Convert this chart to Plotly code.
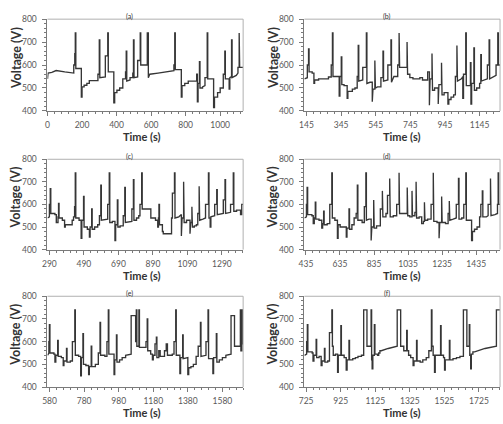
import plotly.graph_objects as go

# ---- data: (time s, voltage V) vertices ----
pts_a = [
(0,540),(3,565),(25,568),(50,576),(100,570),(152,565),
(152,600),(158,600),(158,650),(161,650),(161,740),(164,740),(164,585),
(196,585),(196,460),(200,460),(200,505),(212,505),(212,512),(228,512),(228,520),(242,520),(242,532),(292,532),
(292,560),(300,560),(300,710),(303,710),(303,545),(335,548),
(335,640),(349,640),(349,740),(352,740),(352,570),(384,570),
(384,435),(389,435),(389,480),(402,480),(402,490),(418,490),(418,500),(436,500),(436,540),(452,540),
(452,570),(456,570),(456,660),(459,660),(459,530),(478,535),(478,545),(494,545),
(494,565),(498,565),(498,710),(501,710),(501,545),(522,548),
(522,620),(537,620),(537,740),(540,740),(540,600),(578,600),
(578,740),(584,740),(584,545),(592,560),(640,565),(700,570),(732,575),
(732,600),(737,600),(737,740),(740,740),(740,580),(775,580),
(775,460),(779,460),(779,510),(795,510),(795,520),(815,520),(815,530),(864,530),
(864,560),(868,560),(868,440),(872,440),(872,520),(880,520),(880,615),(883,615),(883,500),(898,500),(898,505),(912,510),
(912,545),(925,545),(925,740),(928,740),(928,540),(962,540),
(962,415),(967,415),(967,460),(985,460),(985,480),(1000,480),(1000,500),(1018,500),
(1018,560),(1027,560),(1027,660),(1030,660),(1030,540),(1052,540),
(1052,495),(1056,495),(1056,545),(1066,550),(1066,710),(1069,710),(1069,545),(1093,555),(1103,565),
(1103,590),(1110,590),(1110,740),(1113,740),(1113,590),(1133,590)
]

pts_b = [
(133,540),(150,545),(150,600),(157,600),(157,670),(160,670),(160,570),(178,570),(178,565),(188,565),
(188,520),(192,520),(192,535),(215,535),(215,540),(272,540),(272,548),(288,548),
(288,600),(295,600),(295,740),(298,740),(298,550),(334,550),
(334,465),(338,465),(338,550),(346,550),(346,635),(349,635),(349,515),(362,515),(362,510),(380,510),
(380,455),(384,455),(384,485),(410,485),(410,495),(425,495),(425,500),(438,500),
(438,550),(444,550),(444,685),(447,685),(447,530),(470,535),
(470,590),(491,590),(491,740),(494,740),(494,520),(512,525),(525,525),
(525,440),(529,440),(529,495),(540,495),(540,620),(543,620),(543,500),(555,505),(575,505),
(575,545),(587,545),(587,660),(590,660),(590,530),(615,535),
(615,600),(633,600),(633,710),(636,710),(636,525),(650,550),(672,550),
(672,600),(680,600),(680,740),(683,740),(683,590),(726,590),
(726,700),(729,700),(729,560),(742,560),(742,545),(760,545),(760,540),(800,540),(800,545),(815,545),(815,535),(845,535),
(845,570),(855,570),(855,425),(859,425),(859,540),(870,540),(870,650),(873,650),(873,490),(885,490),(885,500),(906,500),
(906,430),(910,430),(910,515),(925,515),(925,610),(928,610),(928,470),(940,470),(940,480),(962,480),
(962,430),(967,430),(967,450),(980,450),(980,460),(995,460),(995,470),(1005,470),
(1005,550),(1014,550),(1014,685),(1017,685),(1017,530),(1040,540),(1048,550),
(1048,455),(1052,455),(1052,560),(1065,560),(1065,740),(1068,740),(1068,510),(1092,510),
(1092,610),(1095,610),(1095,430),(1099,430),(1099,520),(1112,520),(1112,675),(1115,675),(1115,490),(1128,490),(1128,500),(1145,500),(1145,520),(1152,520),
(1152,645),(1155,645),(1155,530),(1175,535),(1190,540),
(1190,600),(1200,600),(1200,710),(1203,710),(1203,540),(1225,550),(1240,555),
(1240,600),(1250,600),(1250,740),(1253,740),(1253,600),(1263,600)
]

pts_c = [
(279,540),(290,545),(290,600),(295,600),(295,670),(298,670),(298,560),(322,560),(322,555),(330,555),
(330,520),(340,520),(340,545),(343,545),(343,605),(346,605),(346,540),(365,540),(365,530),(378,530),
(378,500),(382,500),(382,510),(422,510),(422,530),(430,530),(430,545),(436,545),
(436,590),(440,590),(440,740),(443,740),(443,540),(462,540),(462,530),(474,530),
(474,450),(478,450),(478,530),(488,530),(488,635),(491,635),(491,500),(510,500),(510,490),(522,490),
(522,455),(526,455),(526,500),(535,500),(535,580),(538,580),(538,490),(552,490),(552,500),(570,500),(570,510),(580,510),
(580,550),(588,550),(588,685),(591,685),(591,530),(618,535),(628,535),
(628,600),(637,600),(637,740),(640,740),(640,520),(655,520),(655,525),(670,525),
(670,440),(674,440),(674,510),(684,510),(684,620),(687,620),(687,500),(700,500),(700,505),(718,505),
(718,550),(727,550),(727,675),(730,675),(730,520),(755,525),(768,525),
(768,580),(777,580),(777,710),(780,710),(780,530),(795,530),(795,540),(808,540),(808,550),(815,550),
(815,600),(825,600),(825,740),(828,740),(828,580),(878,580),
(878,540),(905,540),(905,530),(918,530),(918,500),(922,500),(922,540),(925,540),(925,600),(928,600),(928,510),(945,510),
(945,480),(950,480),(950,470),(998,470),
(998,540),(1003,540),(1003,650),(1015,650),(1015,740),(1018,740),(1018,540),(1040,545),(1055,555),
(1055,460),(1059,460),(1059,540),(1068,540),(1068,700),(1071,700),(1071,520),(1085,520),(1085,530),(1105,530),
(1105,470),(1109,470),(1109,520),(1116,520),(1116,590),(1119,590),(1119,500),(1130,500),(1130,505),(1142,505),(1142,510),(1150,510),
(1150,560),(1158,560),(1158,680),(1161,680),(1161,530),(1180,535),(1195,540),
(1195,600),(1212,600),(1212,740),(1215,740),(1215,540),(1222,540),(1222,500),(1226,500),(1226,545),(1248,550),
(1248,600),(1260,600),(1260,665),(1263,665),(1263,555),(1290,560),(1298,560),
(1298,620),(1308,620),(1308,710),(1311,710),(1311,560),(1340,565),
(1340,600),(1356,600),(1356,740),(1359,740),(1359,570),(1375,570),(1375,575),(1398,575),
(1398,555),(1405,555),(1405,600),(1413,600)
]

pts_d = [
(426,540),(438,545),(438,600),(442,600),(442,675),(445,675),(445,555),(470,555),(470,550),(478,550),
(478,515),(484,515),(484,540),(490,540),(490,610),(493,610),(493,535),(512,535),(512,530),(528,530),
(528,495),(533,495),(533,515),(539,515),(539,570),(542,570),(542,510),(560,510),(560,515),(575,515),
(575,600),(587,600),(587,740),(590,740),(590,540),(605,540),(605,530),(620,530),
(620,450),(624,450),(624,510),(636,510),(636,500),(672,500),
(672,455),(676,455),(676,495),(688,495),(688,580),(691,580),(691,490),(705,490),(705,510),(718,510),(718,540),(730,540),
(730,560),(737,560),(737,685),(740,685),(740,530),(765,530),(765,520),(778,520),
(778,590),(787,590),(787,740),(790,740),(790,530),(805,535),(818,535),
(818,440),(822,440),(822,500),(833,500),(833,620),(836,620),(836,495),(850,495),(850,505),(872,505),
(872,580),(884,580),(884,660),(887,660),(887,545),(905,545),(905,560),(914,560),
(914,640),(927,640),(927,715),(930,715),(930,545),(948,545),(948,550),(968,550),
(968,600),(982,600),(982,740),(985,740),(985,560),(1030,560),
(1030,675),(1033,675),(1033,550),(1045,550),(1045,545),(1058,545),(1058,660),(1061,660),(1061,550),(1075,550),
(1075,565),(1082,565),(1082,700),(1085,700),(1085,540),(1100,540),(1100,545),(1115,545),
(1115,515),(1125,515),(1125,525),(1131,525),(1131,610),(1134,610),(1134,530),(1150,530),(1150,535),(1170,535),
(1170,600),(1183,600),(1183,740),(1186,740),(1186,525),(1205,525),(1205,520),(1217,520),
(1217,450),(1221,450),(1221,520),(1232,520),(1232,635),(1235,635),(1235,520),(1255,520),(1255,515),(1270,515),
(1270,560),(1277,560),(1277,615),(1280,615),(1280,530),(1300,535),(1318,540),
(1318,600),(1331,600),(1331,715),(1334,715),(1334,535),(1350,535),(1350,540),(1362,540),
(1362,600),(1374,600),(1374,740),(1377,740),(1377,530),(1408,530),
(1408,440),(1413,440),(1413,480),(1425,480),(1425,490),(1440,490),(1440,500),(1455,500),
(1455,545),(1462,545),(1462,600),(1471,600),(1471,660),(1474,660),(1474,545),(1495,545),(1505,550),
(1505,600),(1519,600),(1519,715),(1522,715),(1522,550),(1545,555),(1560,560),
(1560,600),(1564,600),(1564,740),(1567,740),(1567,600),(1575,600)
]

pts_e = [
(568,540),(576,550),(576,600),(579,600),(579,675),(582,675),(582,550),(605,550),(605,545),(611,545),
(611,510),(616,510),(616,540),(627,540),(627,605),(630,605),(630,535),(648,535),(648,530),(659,530),
(659,495),(663,495),(663,515),(678,515),(678,570),(681,570),(681,510),(700,510),(700,515),(712,515),
(712,600),(726,600),(726,740),(729,740),(729,540),(748,540),(748,535),(760,535),
(760,450),(764,450),(764,530),(773,530),(773,635),(776,635),(776,500),(790,500),(790,495),(806,495),
(806,455),(810,455),(810,490),(821,490),(821,580),(824,580),(824,490),(845,490),(845,500),(862,500),
(862,550),(872,550),(872,685),(875,685),(875,540),(900,540),(900,535),(912,535),
(912,600),(920,600),(920,740),(923,740),(923,545),(953,545),
(953,455),(957,455),(957,520),(967,520),(967,630),(970,630),(970,510),(985,510),(985,520),(1000,520),(1000,530),(1020,530),(1020,540),(1048,545),
(1052,545),(1052,715),(1078,715),(1078,600),(1082,600),(1082,740),(1085,740),(1085,580),(1097,580),(1097,740),(1100,740),(1100,575),(1138,575),
(1138,600),(1145,600),(1145,700),(1148,700),(1148,560),(1165,560),(1165,545),(1175,545),
(1175,520),(1180,520),(1180,540),(1190,540),(1190,590),(1198,590),(1198,620),(1201,620),(1201,530),(1212,530),(1212,560),(1220,560),(1220,535),(1245,535),
(1245,560),(1255,560),(1255,590),(1262,590),(1262,540),(1290,540),(1290,545),(1300,545),
(1300,600),(1310,600),(1310,740),(1313,740),(1313,540),(1334,540),
(1334,460),(1338,460),(1338,530),(1350,530),(1350,630),(1353,630),(1353,525),(1380,530),
(1380,455),(1385,455),(1385,485),(1398,485),(1398,490),(1412,490),(1412,500),(1428,500),(1428,535),(1440,535),
(1440,580),(1453,580),(1453,685),(1456,685),(1456,535),(1480,540),(1485,540),
(1485,600),(1497,600),(1497,740),(1500,740),(1500,525),(1525,525),
(1525,460),(1529,460),(1529,530),(1545,530),(1545,635),(1548,635),(1548,510),(1562,510),(1562,520),(1580,520),(1580,530),(1600,530),(1600,540),(1625,545),
(1630,545),(1630,715),(1650,715),(1650,580),(1684,580),
(1684,740),(1687,740),(1687,560),(1693,560),(1693,740),(1696,740),(1696,590),(1700,590)
]

pts_f = [
(715,540),(728,545),(728,600),(732,600),(732,675),(735,675),(735,555),(760,555),(760,550),(765,550),
(765,515),(770,515),(770,540),(783,540),(783,610),(786,610),(786,530),(800,530),(800,535),(812,535),
(812,495),(817,495),(817,515),(831,515),(831,570),(834,570),(834,510),(850,510),(850,515),(860,515),
(860,640),(874,640),(874,740),(877,740),(877,580),(882,580),(882,540),(895,540),(895,545),(907,545),
(907,465),(911,465),(911,540),(926,540),(926,670),(929,670),(929,540),(945,540),(945,530),(957,530),
(957,475),(962,475),(962,520),(973,520),(973,605),(976,605),(976,520),(995,520),(995,525),(1010,525),(1010,530),(1025,530),(1025,535),(1045,535),(1045,540),(1058,540),
(1058,740),(1077,740),(1077,580),(1101,580),(1101,740),(1104,740),(1104,520),(1107,520),(1107,480),(1111,480),(1111,540),(1120,540),
(1120,675),(1123,675),(1123,545),(1138,545),(1138,540),(1145,540),(1145,550),(1152,550),(1152,560),(1160,560),(1200,570),(1252,580),
(1252,740),(1272,740),(1272,580),(1290,580),(1290,560),(1307,560),(1307,650),(1310,650),(1310,560),(1318,560),(1318,540),(1330,540),(1330,530),(1344,530),
(1344,495),(1349,495),(1349,515),(1364,515),(1364,605),(1367,605),(1367,515),(1385,515),(1385,510),(1400,510),(1400,520),(1420,520),(1420,530),(1435,530),
(1435,560),(1450,560),(1450,740),(1453,740),(1453,580),(1460,580),(1460,540),(1468,540),
(1468,465),(1472,465),(1472,540),(1503,540),(1503,670),(1506,670),(1506,540),(1520,540),(1520,530),(1526,530),
(1526,475),(1530,475),(1530,520),(1554,520),(1554,605),(1557,605),(1557,520),(1575,520),(1575,525),(1595,525),(1595,530),(1615,530),(1615,535),(1635,535),
(1635,740),(1655,740),(1655,580),(1669,580),(1669,675),(1672,675),(1672,540),(1677,540),(1677,480),(1681,480),(1681,545),(1690,545),(1690,555),(1700,555),(1760,570),(1826,580),
(1826,740),(1847,740)
]

panel_labels = ["(a)", "(b)", "(c)", "(d)", "(e)", "(f)"]
tick_starts = [0, 145, 290, 435, 580, 725]
x_ranges = [[0, 1133], [133, 1263], [279, 1413], [426, 1575], [568, 1700], [715, 1847]]
y_ticks = [400, 500, 600, 700, 800]
panels = [pts_a, pts_b, pts_c, pts_d, pts_e, pts_f]

W, H = 503, 424
# plot-area pixel boxes (left, right, top, bottom)
col_px = [(42, 240), (302, 500)]
row_px = [(14.5, 108.5), (158, 250.5), (298.3, 391.3)]

FONT = "Lato, 'Liberation Sans', sans-serif"
fig = go.Figure()
layout = dict(
    width=W, height=H, margin=dict(l=0, r=0, t=0, b=0),
    paper_bgcolor="white", plot_bgcolor="white", showlegend=False,
    font=dict(family=FONT, color="#595959"),
)
annotations = []
shapes = []

for i, pts in enumerate(panels):
    r, c = divmod(i, 2)
    xs = [p[0] for p in pts]
    ys = [p[1] for p in pts]
    n = i + 1
    xa = "x" if n == 1 else f"x{n}"
    ya = "y" if n == 1 else f"y{n}"
    fig.add_trace(go.Scatter(x=xs, y=ys, mode="lines", xaxis=xa, yaxis=ya,
                             line=dict(color="#363636", width=1.35), hoverinfo="skip"))
    l, rr = col_px[c]
    t, b = row_px[r]
    xd = [l / W, rr / W]
    yd = [1 - b / H, 1 - t / H]
    xkey = "xaxis" if n == 1 else f"xaxis{n}"
    ykey = "yaxis" if n == 1 else f"yaxis{n}"
    layout[xkey] = dict(
        domain=xd, anchor=ya, range=x_ranges[i], tickmode="linear",
        tick0=tick_starts[i], dtick=200, showgrid=False, zeroline=False,
        showline=True, linecolor="#7a7a7a", linewidth=1,
        ticks="outside", ticklen=4, tickcolor="#7a7a7a",
        tickfont=dict(size=8.5, color="#595959"), ticklabelstandoff=2,
        minor=dict(dtick=40, tick0=tick_starts[i], ticks="outside", ticklen=2, tickcolor="#7a7a7a"),
    )
    layout[ykey] = dict(
        domain=yd, anchor=xa, range=[400, 800], tickmode="array", tickvals=y_ticks,
        showgrid=False, zeroline=False,
        showline=True, linecolor="#7a7a7a", linewidth=1,
        ticks="outside", ticklen=4, tickcolor="#7a7a7a",
        tickfont=dict(size=8.5, color="#595959"), ticklabelstandoff=4,
        minor=dict(dtick=20, tick0=400, ticks="outside", ticklen=2, tickcolor="#7a7a7a"),
    )
    # light frame on top / right
    shapes.append(dict(type="line", xref=f"{xa} domain", yref=f"{ya} domain",
                       x0=0, x1=1, y0=1, y1=1, line=dict(color="#b0b0b0", width=1)))
    shapes.append(dict(type="line", xref=f"{xa} domain", yref=f"{ya} domain",
                       x0=1, x1=1, y0=0, y1=1, line=dict(color="#b0b0b0", width=1)))
    # panel label
    cx = 125 if c == 0 else 386
    annotations.append(dict(text=panel_labels[i], x=cx / W, y=1 - (t - 3) / H,
                            xref="paper", yref="paper", showarrow=False,
                            font=dict(size=7, color="#333333", family=FONT),
                            xanchor="center", yanchor="middle"))
    # y title
    ytx = 10 if c == 0 else 270
    annotations.append(dict(text="<b>Voltage (V)</b>", x=ytx / W, y=1 - ((t + b) / 2 - 7) / H,
                            xref="paper", yref="paper", showarrow=False, textangle=-90,
                            font=dict(size=12.5, color="#333333", family=FONT),
                            xanchor="center", yanchor="middle"))
    # x title
    xtx = 138 if c == 0 else 401
    annotations.append(dict(text="<b>Time (s)</b>", x=xtx / W, y=1 - (b + 26.5) / H,
                            xref="paper", yref="paper", showarrow=False,
                            font=dict(size=11, color="#333333", family=FONT),
                            xanchor="center", yanchor="middle"))

layout["annotations"] = annotations
layout["shapes"] = shapes
fig.update_layout(**layout)
fig.write_html("out.html")
